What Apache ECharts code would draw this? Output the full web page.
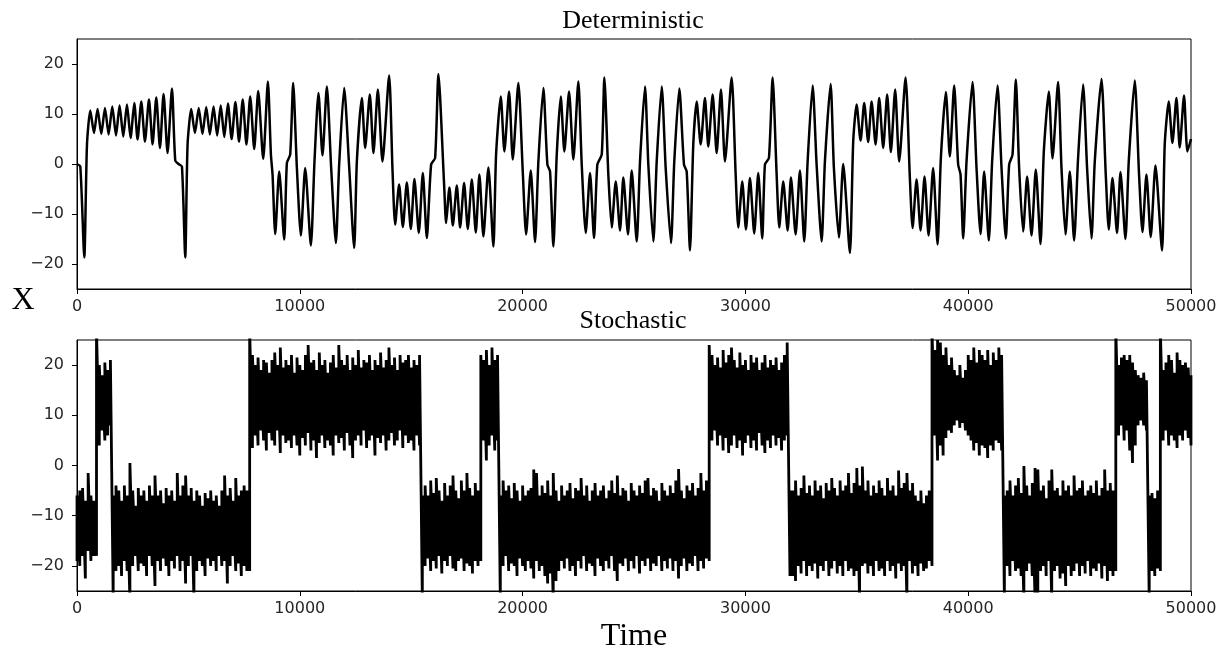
<!DOCTYPE html>
<html>
<head>
<meta charset="utf-8">
<title>Deterministic / Stochastic</title>
<script src="https://cdn.jsdelivr.net/npm/echarts@6/dist/echarts.min.js"></script>
<style>
  html,body{margin:0;padding:0;background:#fff}
  #main{width:1220px;height:657px}
</style>
</head>
<body>
<div id="main"></div>
<script>
// ---------- 数据 ----------
const xTicks = [0, 10000, 20000, 30000, 40000, 50000];
const yTicks = [-20, -10, 0, 10, 20];

// 上图：确定性轨迹（读图得到的极值点与转折点）
const detTime = [
  0, 148, 327, 448,
  597, 763, 924, 1090, 1256, 1418, 1583, 1750, 1911, 2077, 2243, 2404, 2571, 2718, 2885, 3050, 3230, 3391, 3558, 3723, 3885, 4064, 4262,
  4410, 4558, 4710, 4858, 4963,
  5128, 5293, 5464, 5630, 5800, 5962, 6128, 6289, 6451, 6612, 6774, 6940, 7110, 7272, 7438, 7604, 7774, 7954, 8133, 8358, 8568,
  8703, 8777, 8896, 9075, 9300, 9420, 9569, 9703, 9869, 10048, 10242, 10497, 10659, 10838, 11018, 11215, 11408, 11619, 11767, 11991, 12215, 12440, 12561, 12785, 12933, 13144, 13306, 13503, 13710, 14010,
  14158, 14279, 14458, 14624, 14804, 14983, 15145, 15342, 15522, 15701, 15894, 16073, 16222,
  16477, 16567, 16715, 16868, 17047, 17195, 17374, 17540, 17720, 17899, 18061, 18240, 18465, 18689, 18810, 19020, 19182, 19393, 19559, 19810,
  20007, 20156, 20366, 20559, 20708, 20932, 21112, 21232, 21381, 21533, 21712, 21874, 22085, 22278, 22502,
  22654, 22834, 23026, 23206, 23355, 23552, 23669, 23848, 24000, 24180, 24373, 24521, 24730,
  24897, 25122, 25270, 25494, 25643, 25867, 26019, 26243, 26422, 26660, 26808, 27033, 27243, 27365, 27513,
  27661, 27813, 27993, 28185, 28334, 28531, 28710, 28903, 29083, 29383,
  29563, 29680, 29859, 30025, 30204, 30397, 30577, 30756, 30877, 31056, 31222,
  31402, 31519, 31698, 31896, 32044, 32254, 32447, 32641, 32793, 33017,
  33196, 33421, 33569, 33824, 33972, 34197, 34390, 34690,
  34839, 34991, 35170, 35332, 35511, 35664, 35843, 36005, 36184, 36363, 36529, 36722, 36902, 37189,
  37382, 37503, 37682, 37862, 38041, 38221, 38427, 38625, 38773, 38997, 39176, 39370, 39549, 39656, 39775, 39925, 40194,
  40374, 40554, 40716, 40925, 41074, 41316,
  41496, 41688, 41838, 41990, 42138, 42286, 42466, 42645, 42842, 43035, 43246, 43394, 43619, 43784, 44035,
  44187, 44367, 44560, 44753, 44932, 45156, 45336, 45533, 45681, 45982,
  46174, 46309, 46475, 46681, 46834, 47058, 47206, 47475,
  47668, 47821, 48000, 48193, 48404, 48700,
  48821, 49000, 49166, 49346, 49494, 49687, 49839, 50000
];
const detX = [
  0, -0.5, -18.7, 3.9,
  10.7, 6.2, 11.0, 6.0, 11.2, 5.9, 11.5, 5.7, 11.7, 5.5, 11.9, 5.2, 12.2, 4.9, 12.5, 4.5, 12.9, 3.9, 13.3, 3.2, 14.0, 2.2, 15.1,
  0.7, 0, -0.5, -18.7, 3.9,
  11.0, 6.2, 11.2, 6.0, 11.4, 5.9, 11.5, 5.7, 11.7, 5.4, 12.1, 5.0, 12.4, 4.5, 12.9, 3.9, 13.5, 3.0, 14.6, 1.0, 16.5,
  1.9, -2.1, -14, -1.5, -15.1, 0.2, 1.9, 16.2, -0.8, -14.3, -0.8, -16.3, 0.5, 14.2, 1.7, 15.5, -0.8, -15.8, -0.1, 15.2, -0.5, -16.8, 0.5, 13.2, 3.2, 13.9, 2.2, 14.9, 0.5, 17.7,
  -0.8, -12.1, -4.1, -12.6, -3.7, -13, -3, -13.8, -1.8, -14.8, -0.1, 1.2, 18,
  -4.1, -11.8, -4.7, -12.3, -4.3, -12.7, -3.8, -13, -3.1, -13.7, -2.1, -14.5, -0.7, -16.5, 1.9, 13.5, 2.5, 14.5, 0.9, 16.2,
  -1.5, -14.1, -1.3, -15.6, 0.5, 15.2, -0.1, -1.5, -16.5, 1.9, 13.5, 2.5, 14.5, 0.9, 16.5,
  -0.1, -13.8, -1.8, -14.8, -0.1, 1.9, 17.3, -2.1, -12.7, -3.5, -13.3, -2.7, -14.1,
  -1.3, -15.5, 0.5, 15.5, -0.1, -15.5, 0.5, 15.5, -0.8, -15.8, 0.5, 15.1, -0.1, -1.5, -17.3,
  3.9, 12.5, 3.9, 13.2, 3.5, 13.9, 2.2, 14.9, 0.5, 17.3,
  -2.1, -12.7, -3.5, -13.1, -2.8, -13.9, -1.8, -14.9, -0.1, 1.2, 17.3,
  -2.1, -12.7, -3.5, -13.3, -2.7, -14.1, -1.3, -15.5, 0.5, 15.7,
  -0.1, -15.5, 0.5, 16, -0.8, -14.7, 0, -17.8,
  4.5, 11.9, 4.7, 12.2, 4.4, 12.5, 3.9, 13.2, 3.2, 13.9, 2.4, 14.9, 0.5, 17.3,
  -2.8, -12.8, -3.1, -13.3, -2.5, -14.3, -0.8, -16.1, 1.2, 14.4, 1.5, 15.7, -0.1, -2.1, -14.9, 0.5, 16.4,
  -0.8, -14, -1.5, -15.3, 0.5, 15.7,
  -0.8, -14.9, -0.1, 1.9, 16.9, -0.8, -13.5, -2.5, -14.3, -1.1, -16, 2.5, 14.5, 1.1, 16.4,
  -0.8, -14.1, -1.5, -15.3, 1.2, 15.9, -0.8, -14.9, 0.5, 17,
  -2.1, -13.1, -2.8, -13.8, -1.6, -15, 0.5, 16.7,
  -2.1, -13.6, -2.1, -14.6, -0.3, -17.3,
  3.9, 12.5, 4.2, 13.2, 3.3, 13.7, 2.5, 5
];

// 下图：随机轨迹，按等间隔采样读出的噪声带上沿 / 下沿
const stochEnd = 50000;
const stochHi = [
  -6, -5, -4.5, -7, -1.5, -6, -7,
  27,
  20, 18, 20.5, 19, 21,
  -6,
  -4, -5, -7, -4, -6, 0.5, -5, -8, -4.5, -6, -5, -7, -4, -6, -2, -6, -5, -7.5, -4.5, -6,
  -5, -7, -1.5, -6, -4, -2, -6, -4.5, -7, -5, -6, -8, -5.5, -6.5, -5, -7, -6, -8, -5, -2,
  -6, -4.5, -7, -2.5, -6, -5, -4, -5,
  27,
  22, 20, 21.5, 19, 21, 20.5, 18.5, 21, 22.5, 20, 23.5, 19.5, 21, 20, 22, 18.5, 21.5, 20, 19, 22,
  24, 20.5, 21, 19, 22.5, 20, 21, 18.5, 20.5, 22, 19.5, 24, 21, 20, 22, 19, 21.5, 20, 23, 19.5,
  21, 20.5, 22, 19, 21, 20, 22.5, 19.5, 21, 23.5, 20, 21.5, 19, 22, 20.5, 21, 22, 19.5, 21, 20, 22,
  -6,
  -4, -6, -3, -5.5, -2.5, -5, -7, -3.5, -6, -4, -2, -5, -6.5, -3, -5, -1.5, -4.5, -6, -3.5, -5,
  22,
  21, 23, 20, 23.5, 21, 22,
  -6,
  -3, -5, -4, -6.5, -3.5, -5, -7, -4, -6, -5, -4.5, -0.8, -1.5, -6, -4, -5.5, -3, -6, -1.5, -5,
  -7, -4, -6, -5, -3.5, -6.5, -4.5, -5, -2.5, -6, -4, -7, -5, -3.5, -6, -5, -4, -6.5, -5, -3,
  -5.5, -2, -6, -4.5, -5, -7, -3.5, -5, -6, -4, -5.5, -3, -2.5, -6, -4.5, -5, -7, -3.5, -5, -6,
  -4, -5.5, -3, -0.7, -5, -6.5, -4, -5, -3.5, -6, -4.5, -1.5, -5, -3,
  24,
  22, 20, 21.5, 19.5, 23, 20.5, 22, 23.5, 21, 19.5, 22.5, 20, 21, 19, 22, 20.5, 21.5, 19, 20.5, 22,
  19.5, 21, 20, 21.5, 19, 20.5, 22, 24.5,
  -5,
  -5, -3, -6, -4.5, -2, -5.5, -4, -6, -3, -5, -4, -6.5, -3.5, -5, -2.5, -4.5, -6, -3, -5, -4,
  -1.5, -5.5, -3.5, -0.5, -4, -0.2, -5, -3, -6, -4, -5.5, -3, -4.5, -6, -2.5, -5, -4, -6, -1, -4.5,
  -3.5, -1.5, -5, -3.5, -6, -7, -5, -7.5, -6, -5,
  27,
  23, 25, 24.5, 22, 23.5, 20, 21.5, 19, 18, 20, 17.5, 19, 22, 21, 23.5, 20.5, 23, 22, 21, 23,
  20, 22.5, 21, 23.5, 22,
  -6,
  -5, -3, -6, -4, -2.5, -5.5, -0.1, -4, -6, -3.5, -0.5, -0.8, -5, -4, -6.5, -3, -0.8, -5, -4.5, -6,
  -3, -5, -4, -6, -2, -5, -4.5, -3, -6, -5, -4, -5.5, -3, -6, -4.5, -0.8, -5, -3.5, -5,
  27,
  20, 21.5, 22, 21, 22, 20.5, 19, 18, 17.5, 18.5, 17,
  -6,
  -5.5, -6.5, -5,
  27,
  19, 20.5, 22, 21, 18.5, 22.5, 21, 20, 20.5, 19.5, 18
];
const stochLo = [
  -19, -20, -18, -22.5, -17, -19, -18,
  -18,
  4, 7, 5, 6, 8,
  -27,
  -21, -20, -22, -19, -21, -27, -20, -18, -21, -19.5, -20, -22, -18, -20, -24, -19, -21, -18.5, -20, -22,
  -19, -20.5, -18, -21, -19, -23.5, -20, -18, -27, -21, -19, -20, -22, -18.5, -20, -19, -21, -18, -20, -19,
  -23.5, -20, -18, -21, -19.5, -22, -20, -21,
  -21,
  3.5, 6, 4, 7, 5, 3, 6.5, 5, 4, 7, 2.5, 6, 4.5, 5, 3.5, 6, 4, 2, 5.5, 4,
  6.5, 3, 5, 1.5, 4.5, 6, 3.5, 5, 4, 2, 6, 4.5, 5.5, 3, 6.5, 4, 1.5, 5, 6, 4,
  7, 3.5, 5, 6, 2, 5.5, 4.5, 6, 3, 5, 6.5, 4, 5, 7, 3.5, 6, 4.5, 5, 3, 6, 4,
  -27,
  -20, -18.5, -21, -19, -20.5, -18, -21.5, -19, -20, -18, -20.5, -21, -19, -18.5, -21, -19.5, -20, -21.5, -19, -20,
  -19,
  5, 1, 4, 6, 3, 5,
  -27,
  -20, -18, -21, -19.5, -20, -22, -18.5, -20, -21, -19, -20.5, -22.5, -19, -21, -20, -22, -23.5, -21.5, -27, -23,
  -21, -19, -20.5, -18.5, -21, -20, -22, -19, -20.5, -18, -21, -19.5, -20, -22, -18.5, -20, -21, -19, -20.5, -18,
  -21, -23, -19.5, -20, -18.5, -21, -19, -20.5, -18, -21.5, -19, -20, -18.5, -21, -19.5, -20, -18, -21, -19, -20.5,
  -18.5, -21, -19, -22.5, -20, -18.5, -21, -19.5, -20, -18, -21, -19, -20.5, -18.5,
  -19,
  5, 7, 4, 6, 3, 5.5, 2.5, 4, 6, 3.5, 5, 2, 4.5, 6, 3.5, 5, 3, 6.5, 4, 2.5,
  5, 3.5, 6, 4, 5.5, 3, 5, 6,
  -22,
  -22, -23, -20, -21.5, -19, -22, -20, -21, -19.5, -22.5, -20, -21, -19, -22, -20.5, -19, -21.5, -20, -22, -19,
  -21, -20.5, -22, -21, -27, -20, -19.5, -21.5, -20, -22, -19, -21, -20.5, -22, -19, -21, -20, -22.5, -19.5, -21,
  -20, -27, -19, -21.5, -20, -22, -19.5, -21, -20.5, -19,
  -20,
  6, 1, 4, 2, 5.5, 7, 6.5, 8, 9, 7.5, 8.5, 7, 6, 5, 3, 4.5, 2, 4, 3.5, 1.5,
  4, 3, 5, 4.5, 3,
  -27,
  -20, -22, -19, -21, -20.5, -22, -27, -21, -19.5, -22, -27, -27, -21, -20, -22, -19, -27, -21, -20, -22.5,
  -21.5, -24, -20, -22, -21, -19.5, -22, -20, -21.5, -19, -22, -20.5, -21, -19.5, -22.5, -20, -23, -21, -22,
  -21,
  6, 8, 5, 7, 3, 0.5, 4, 8, 9, 8, 7,
  -27,
  -21, -22, -20.5,
  -21,
  5, 7, 4, 6, 5, 3.5, 6, 5, 7, 5.5, 4
];

// ---------- 组装 ----------
const detData = detTime.map((t, i) => [t, detX[i]]);

const n = Math.min(stochHi.length, stochLo.length);
const step = stochEnd / (n - 1);
const stochData = [];
for (let i = 0; i < n; i++) {
  // 每个采样点画一条从下沿到上沿的竖线，连起来就是一条实心噪声带
  stochData.push([i * step, stochLo[i]], [i * step, stochHi[i]]);
}

const minus = v => String(v).replace('-', '\u2212');
const tickFont = {fontFamily: 'DejaVu Sans', fontSize: 16, color: '#262626'};
const serif = '"Liberation Serif", "DejaVu Serif", serif';

function xAxisOf(g){
  return {
    type: 'value', gridIndex: g, min: 0, max: 50000, interval: 10000,
    axisLine: {show: true, onZero: false, lineStyle: {color: '#000', width: 1}},
    axisTick: {show: true, length: 5, lineStyle: {color: '#000'}},
    axisLabel: Object.assign({margin: 10, formatter: minus, showMinLabel: true, showMaxLabel: true, hideOverlap: false}, tickFont),
    splitLine: {show: false}
  };
}
function yAxisOf(g){
  return {
    type: 'value', gridIndex: g, min: -25, max: 25,
    axisLine: {show: true, lineStyle: {color: '#000', width: 1}},
    axisTick: {show: true, length: 5, customValues: yTicks, lineStyle: {color: '#000'}},
    axisLabel: Object.assign({margin: 13, customValues: yTicks, formatter: minus}, tickFont),
    splitLine: {show: false}
  };
}

function txt(text, x, y, size){
  return {
    type: 'text', x: x, y: y, silent: true,
    style: {text: text, font: size + 'px ' + serif, fill: '#000',
            align: 'center', verticalAlign: 'middle', textAlign: 'center', textVerticalAlign: 'middle'}
  };
}

const chart = echarts.init(document.getElementById('main'), null, {renderer: 'canvas'});
chart.setOption({
  animation: false,
  backgroundColor: '#fff',
  grid: [
    {left: 77, top: 39, width: 1114, height: 250, show: true, borderColor: '#000', borderWidth: 1, backgroundColor: 'transparent'},
    {left: 77, top: 340, width: 1114, height: 251, show: true, borderColor: '#000', borderWidth: 1, backgroundColor: 'transparent'}
  ],
  xAxis: [xAxisOf(0), xAxisOf(1)],
  yAxis: [yAxisOf(0), yAxisOf(1)],
  graphic: [
    txt('Deterministic', 633, 21, 26),
    txt('Stochastic', 633, 321, 26),
    txt('X', 23, 301, 32),
    txt('Time', 634, 637, 32)
  ],
  series: [
    {
      name: 'Deterministic', type: 'line', xAxisIndex: 0, yAxisIndex: 0,
      data: detData, showSymbol: false, smooth: 0.22, silent: true,
      lineStyle: {color: '#000', width: 2.5}
    },
    {
      name: 'Stochastic', type: 'line', xAxisIndex: 1, yAxisIndex: 1,
      data: stochData, showSymbol: false, silent: true,
      lineStyle: {color: '#000', width: 2.8, join: 'miter'}
    }
  ]
});
</script>
</body>
</html>
